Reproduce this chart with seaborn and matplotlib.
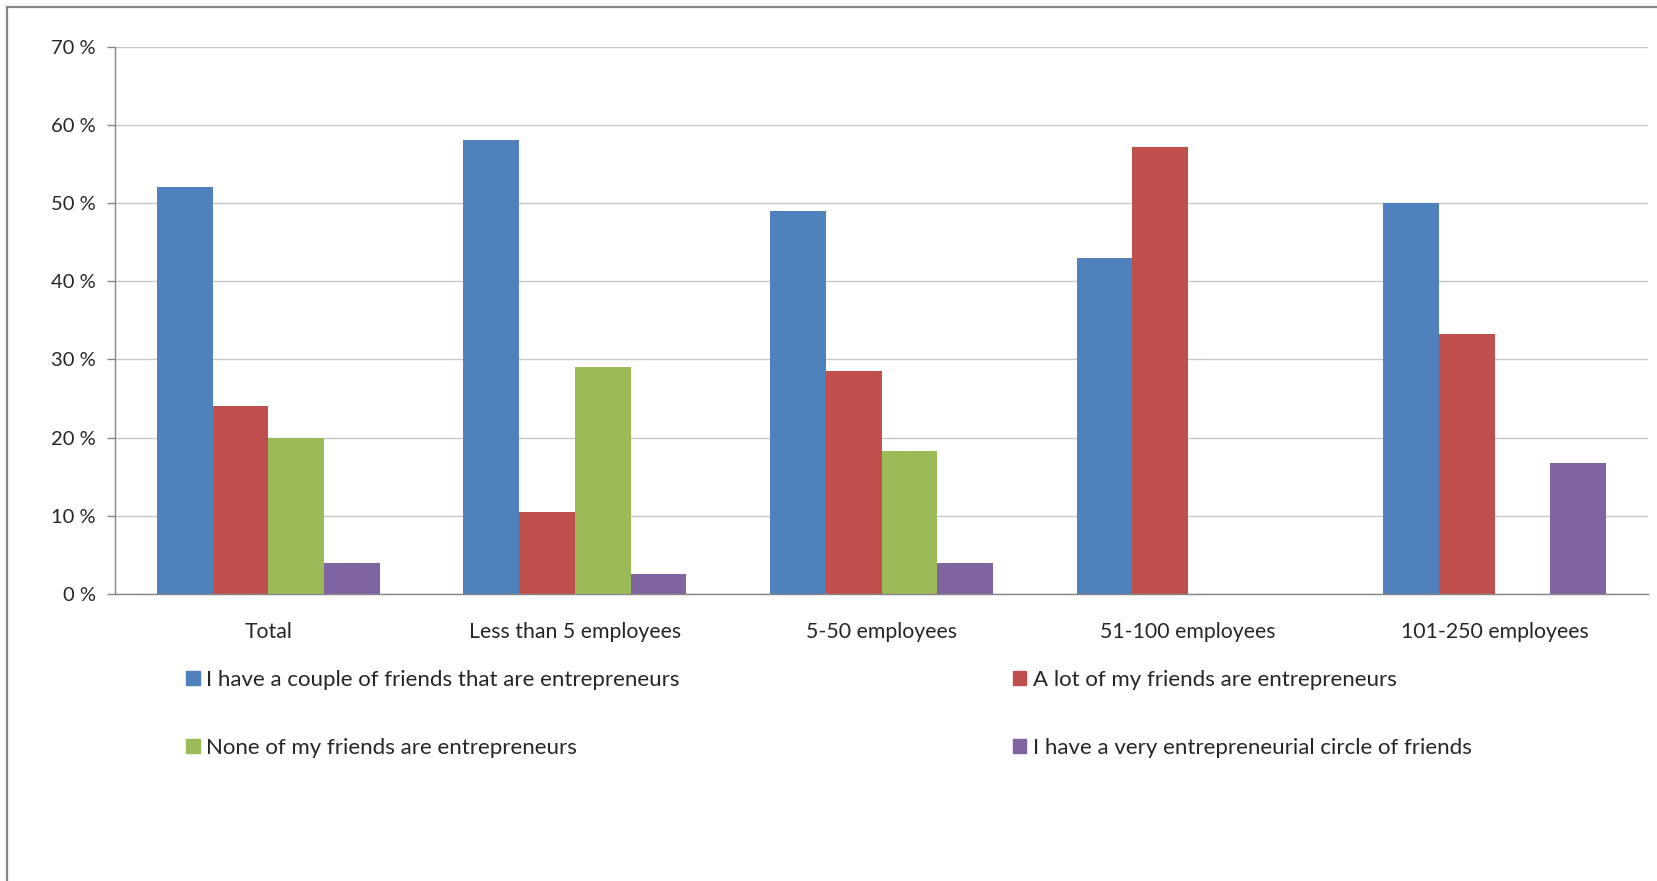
import pandas as pd
import matplotlib.pyplot as plt
import seaborn as sns
from matplotlib.patches import Patch, Rectangle

# Chart data
groups = ['Total', 'Less than 5 employees', '5-50 employees', '51-100 employees', '101-250 employees']
series = ['I have a couple of friends that are entrepreneurs',
          'A lot of my friends are entrepreneurs',
          'None of my friends are entrepreneurs',
          'I have a very entrepreneurial circle of friends']
couple = [52.0, 58.0, 49.0, 42.9, 50.0]
a_lot = [24.0, 10.5, 28.5, 57.1, 33.3]
none = [20.0, 29.0, 18.3, 0.0, 0.0]
very = [4.0, 2.6, 4.0, 0.0, 16.7]
colors = ['#4F81BD', '#C0504D', '#9BBB59', '#8064A2']
yticks = [0, 10, 20, 30, 40, 50, 60, 70]

rows = []
for name, vals in zip(series, [couple, a_lot, none, very]):
    for g, v in zip(groups, vals):
        rows.append({'group': g, 'series': name, 'value': v})
df = pd.DataFrame(rows)

sns.set_style('white')
plt.rcParams['font.family'] = ['Lato', 'DejaVu Sans']

fig = plt.figure(figsize=(16.57, 8.81), dpi=100)
ax = fig.add_axes([0.0694, 0.3258, 0.9252, 0.6214])

sns.barplot(data=df, x='group', y='value', hue='series', order=groups, hue_order=series,
            palette=colors, saturation=1, width=0.727, errorbar=None, legend=False,
            linewidth=0, ax=ax)

ax.set_ylim(0, 70)
ax.set_xlim(-0.5, 4.5)
ax.set_yticks(yticks)
ax.set_yticklabels([f'{t} %' for t in yticks], fontsize=14.5)
ax.set_xticks(range(len(groups)))
ax.set_xticklabels(groups, fontsize=15.3)
ax.set_xticks([i - 0.5 for i in range(len(groups) + 1)], minor=True)
ax.tick_params(axis='x', which='major', length=0, pad=20)
ax.tick_params(axis='x', which='minor', length=6, width=1, color='#BFBFBF', direction='out')
ax.tick_params(axis='y', length=6, width=1, color='#868686', pad=8, direction='out', left=True)
ax.set_xlabel('')
ax.set_ylabel('')

ax.yaxis.grid(True, color='#C8C8C8', linewidth=1)
ax.set_axisbelow(True)
for s in ['top', 'right']:
    ax.spines[s].set_visible(False)
ax.spines['left'].set_color('#868686')
ax.spines['bottom'].set_color('#868686')
ax.spines['left'].set_linewidth(1)
ax.spines['bottom'].set_linewidth(1)

# legend: columns fill top-down, so order blue, green | red, purple
handles = [Patch(color=c) for c in colors]
order = [0, 2, 1, 3]
fig.legend([handles[i] for i in order], [series[i] for i in order], ncol=2,
           loc='upper left', bbox_to_anchor=(0.1054, 0.252), frameon=False,
           fontsize=16, handlelength=0.62, handleheight=0.62, handletextpad=0.28,
           columnspacing=15.0, labelspacing=2.14, borderpad=0)

# outer chart border
fig.patches.append(Rectangle((0.0045, -0.05), 1.2, 1.0415, transform=fig.transFigure,
                             fill=False, edgecolor='#868686', linewidth=1.6))

fig.savefig('out.png', dpi=100)
